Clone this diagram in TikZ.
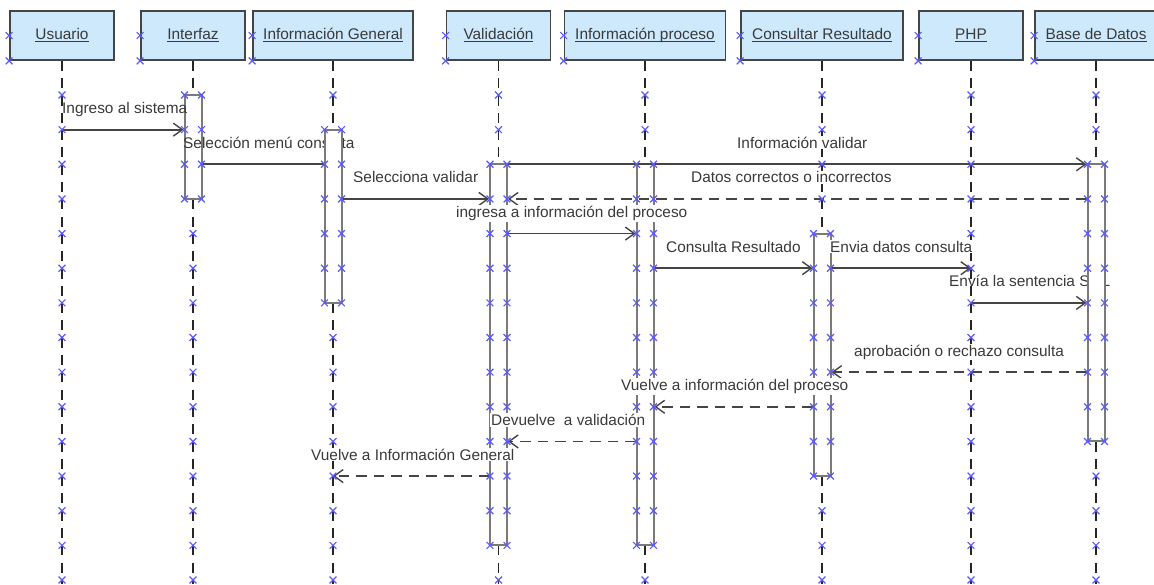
\documentclass[tikz,border=0pt]{standalone}
\usepackage{fontspec}
\setmainfont{Liberation Sans}
\usetikzlibrary{arrows.meta}
\definecolor{boxfill}{HTML}{CDE9FB}
\definecolor{boxline}{HTML}{454545}
\definecolor{txt}{HTML}{3A3A3A}
\definecolor{msgc}{HTML}{454545}
\definecolor{barc}{HTML}{7A7A7A}
\definecolor{crossc}{HTML}{5A5AFF}
\newcommand\hdr[1]{\setbox0=\hbox{#1}\rlap{\rule[-3pt]{\wd0}{0.9pt}}\box0}
\tikzset{
  head/.style={draw=boxline, fill=boxfill, line width=1.8pt, inner sep=0pt, minimum height=49pt, text height=11pt, text depth=4pt, text=txt, font=\fontsize{15.4}{18}\selectfont},
  life/.style={draw=black!85, line width=1.4pt, dash pattern=on 10pt off 7.3pt},
  barbox/.style={draw=barc, fill=white, line width=2pt, minimum width=17pt, inner sep=0pt},
  msg/.style={draw=msgc, line width=1.8pt},
  arr/.style={msg, -{Straight Barb[length=9pt,width=13pt,line width=1.4pt]}},
  darr/.style={arr, dash pattern=on 10.5pt off 7pt},
  lbl/.style={anchor=base west, text=txt, font=\fontsize{15.4}{18}\selectfont, inner sep=1pt},
  lblw/.style={lbl, fill=white},
  bluex/.style={draw=crossc, line width=1.2pt},
  bx/.pic={\draw[bluex] (-3.4,-3.4)--(3.4,3.4) (-3.4,3.4)--(3.4,-3.4);}
}
\begin{document}
\begin{tikzpicture}[x=1pt,y=-1pt]
\useasboundingbox (0,0) rectangle (1154,584);
\begin{scope}
\clip (0,0) rectangle (1154,584);
% header boxes
\node[head, minimum width=104pt] (hU) at (62,35.5) {\hdr{Usuario}};
\node[head, minimum width=104pt] (hI) at (193,35.5) {\hdr{Interfaz}};
\node[head, minimum width=160pt] (hG) at (333,35.5) {\hdr{Información General}};
\node[head, minimum width=104pt] (hV) at (498.5,35.5) {\hdr{Validación}};
\node[head, minimum width=161pt] (hP) at (645,35.5) {\hdr{Información proceso}};
\node[head, minimum width=162pt] (hC) at (822,35.5) {\hdr{Consultar Resultado}};
\node[head, minimum width=104pt] (hH) at (971,35.5) {\hdr{PHP}};
\node[head, minimum width=122pt] (hB) at (1096,35.5) {\hdr{Base de Datos}};
% y levels
\coordinate (y1) at (0,129.64);
\coordinate (y2) at (0,164.29);
\coordinate (y3) at (0,198.93);
\coordinate (y4) at (0,233.57);
\coordinate (y5) at (0,268.21);
\coordinate (y6) at (0,302.86);
\coordinate (y8) at (0,372.14);
\coordinate (y9) at (0,406.79);
\coordinate (y10) at (0,441.43);
\coordinate (y11) at (0,476.07);
\coordinate (bot) at (0,584);
% lifelines
\foreach \h in {hU,hI,hG,hV,hP,hC,hH,hB}{
  \draw[life] (\h.south) -- (\h.south |- bot);
}
% activation bars and labels partly hidden by bars
\node[barbox, minimum height=103.93pt] (bI) at (193,146.96) {};
\node[lbl] (l2) at (182,148.3) {Selección menú consulta};
\node[lbl] (l9) at (948,286.9) {Envía la sentencia SQL};
\node[barbox, minimum height=173.22pt] (bG) at (333,216.25) {};
\node[barbox, minimum height=381.07pt] (bV) at (498.5,354.82) {};
\node[barbox, minimum height=381.07pt] (bP) at (645,354.82) {};
\node[barbox, minimum height=242.5pt] (bC) at (822,354.82) {};
\node[barbox, minimum height=277.14pt] (bB) at (1096,302.86) {};
% messages
\draw[arr] (hU.south |- y1) -- (bI.west |- y1);
\draw[msg] (bG.west |- y2) -- (bI.east |- y2);
\draw[arr] (bG.east |- y3) -- (bV.west |- y3);
\draw[arr] (bV.east |- y2) -- (bB.west |- y2);
\draw[darr] (bB.west |- y3) -- (bV.east |- y3);
\draw[arr] (bV.east |- y4) -- (bP.west |- y4);
\draw[arr] (bP.east |- y5) -- (bC.west |- y5);
\draw[arr] (bC.east |- y5) -- (hH.south |- y5);
\draw[arr] (hH.south |- y6) -- (bB.west |- y6);
\draw[darr] (bB.west |- y8) -- (bC.east |- y8);
\draw[darr] (bC.west |- y9) -- (bP.east |- y9);
\draw[darr] (bP.west |- y10) -- (bV.east |- y10);
\draw[darr] (bV.west |- y11) -- (hG.south |- y11);
% labels
\node[lbl] (l1) at (61,113.6) {Ingreso al sistema};
\node[lblw] (l3) at (352,182.9) {Selecciona validar};
\node[lblw] (l4) at (736,148.3) {Información validar};
\node[lblw] (l5) at (690,182.9) {Datos correctos o incorrectos};
\node[lblw] (l6) at (455,217.6) {ingresa a información del proceso};
\node[lblw] (l7) at (665,252.2) {Consulta Resultado};
\node[lblw] (l8) at (829,252.2) {Envia datos consulta};
\node[lblw] (l10) at (853,356.1) {aprobación o rechazo consulta};
\node[lblw] (l11) at (620,390.8) {Vuelve a información del proceso};
\node[lblw] (l12) at (490,425.4) {Devuelve\ \ a validación};
\node[lblw] (l13) at (310,460.1) {Vuelve a Información General};
% selection crosses
\foreach \h in {hU,hI,hG,hV,hP,hC,hH,hB}{
  \pic at (\h.west) {bx};
  \pic at (\h.south west) {bx};
}
\foreach \lx/\ka/\kb in {62/99/-1, 193/0/3, 333/1/6, 498.5/2/13, 645/2/13, 822/4/11, 971/99/-1, 1096/2/10}{
  \foreach \k in {0,...,14}{
    \pgfmathsetmacro\yy{95+34.6428*\k}
    \pgfmathtruncatemacro\inbar{and(\k>=\ka,\k<=\kb)}
    \ifnum\inbar=1
      \pic at (\lx-8.5,\yy) {bx};
      \pic at (\lx+8.5,\yy) {bx};
    \else
      \pic at (\lx,\yy) {bx};
    \fi
  }
}
\end{scope}
\end{tikzpicture}
\end{document}
